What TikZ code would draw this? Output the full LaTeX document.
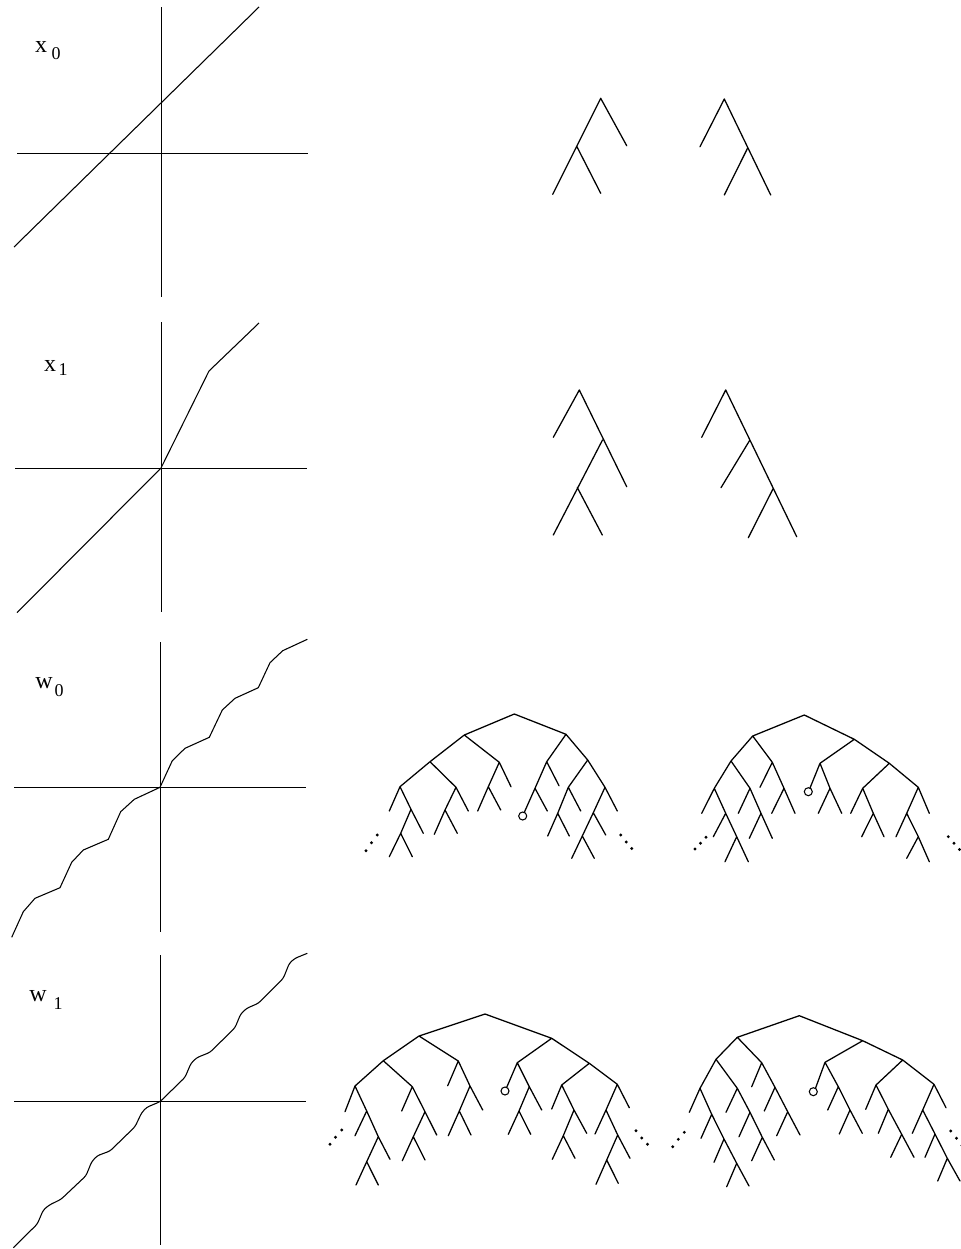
\documentclass[tikz,border=0pt]{standalone}
\usepackage{fontspec}
\setmainfont{Liberation Serif}
\begin{document}
\begin{tikzpicture}[x=0.75pt,y=-0.75pt,
  axis/.style={line width=0.6pt},
  graphline/.style={line width=0.8pt,line join=round},
  tree/.style={line width=0.95pt,line cap=round},
  endcirc/.style={line width=0.8pt,fill=white},
  lbl/.style={inner sep=0pt,font=\fontsize{18}{18}\selectfont},
  sublbl/.style={inner sep=0pt,font=\fontsize{13.5}{13.5}\selectfont}]
\useasboundingbox (0,0) rectangle (960,1249);

% ---------------- row 1: x0 ----------------
\draw[axis] (161.5,7) -- (161.5,297);
\draw[axis] (17,153) -- (308,153);
\draw[graphline] (14,247) -- (259,7);
\node[lbl] (x0) at (41,47) {x};
\node[sublbl] (x0s) at (56,54) {0};

\draw[tree] (600.7,98.3) -- (552.7,194.3) (600.7,98.3) -- (626.7,145.7)
  (576.7,146.3) -- (600.7,193.3);
\draw[tree] (724.3,99) -- (700,146.7) (724.3,99) -- (770.7,195)
  (747.8,147.7) -- (724.3,195);

% ---------------- row 2: x1 ----------------
\draw[axis] (161,322) -- (161,612);
\draw[axis] (15,468) -- (307,468);
\draw[graphline] (17,612.7) -- (161,468) -- (209,371) -- (259,323);
\node[lbl] (x1) at (50,366) {x};
\node[sublbl] (x1s) at (63,370) {1};

\draw[tree] (579.3,390) -- (553.3,437.3) (579.3,390) -- (626.7,486.7)
  (602.5,440) -- (553.3,535) (577.3,487.5) -- (602.3,535);
\draw[tree] (725.7,390) -- (701.7,437.3) (725.7,390) -- (796.7,536.7)
  (749.9,440) -- (721,487.7) (773.3,488.3) -- (748.3,537.7);

% ---------------- row 3: w0 ----------------
\draw[axis] (160,642) -- (160,932);
\draw[axis] (14,787) -- (306,787);
\draw[graphline] (11.7,937.3) -- (23.3,911.7) -- (35,898.3) -- (60,887.7) -- (71.7,862.3)
  -- (83.3,850) -- (108.3,839.3) -- (120.7,811.7) -- (134.3,799.3) -- (160,787.3)
  -- (172.3,760.7) -- (185,748.3) -- (209.3,737.3) -- (222.3,710) -- (235,698.3)
  -- (258.3,687.7) -- (270,662.7) -- (282.7,650.7) -- (307.3,639.3);
\node[lbl] (w0) at (44,683) {w};
\node[sublbl] (w0s) at (59,691) {0};

% tree E
\draw[tree] (514.3,714) -- (464.3,735) (514.3,714) -- (566,734.3)
  (464.3,735) -- (430,761.7) (464.3,735) -- (499.3,762.3)
  (430,761.7) -- (400,786.7) (430,761.7) -- (456,787.3)
  (400,786.7) -- (389.3,811) (400,786.7) -- (411,809.3) -- (423.3,833.3)
  (411,809.3) -- (400.7,833.3) -- (389.3,856.7) (400.7,833.3) -- (412.3,856.7)
  (456,787.3) -- (468.3,811) (456,787.3) -- (445,810) -- (434.3,834.3)
  (445,810) -- (457.3,833.3)
  (499.3,762.3) -- (511,786.7) (499.3,762.3) -- (488.3,786.7) -- (477.7,811)
  (488.3,786.7) -- (500.7,810)
  (566,734.3) -- (546.7,761.7) (566,734.3) -- (587.7,760)
  (546.7,761.7) -- (559,785.7) (546.7,761.7) -- (535,788.3) -- (524.3,812.3)
  (535,788.3) -- (547.3,811)
  (587.7,760) -- (568.3,787.3) (587.7,760) -- (605,787.3)
  (568.3,787.3) -- (580.7,811) (568.3,787.3) -- (557.7,813.3) -- (547.7,836)
  (557.7,813.3) -- (569.3,836)
  (605,787.3) -- (617.3,811) (605,787.3) -- (593.3,812.7) -- (582.3,836) -- (571.7,858.3)
  (593.3,812.7) -- (605.7,835) (582.3,836) -- (594.3,858.3);
\draw[endcirc] (522.7,816) circle (3pt);
\foreach \p in {(366,850.7),(371.5,842.7),(377.3,835),(620.7,835),(626.2,842),(631.7,848.5)}
  \fill \p circle (1.2pt);

% tree F
\draw[tree] (804.3,715) -- (752.7,736) (804.3,715) -- (854.3,739.3)
  (752.7,736) -- (731,761) (752.7,736) -- (772.3,762.3)
  (731,761) -- (714.3,788.3) (731,761) -- (750,788.3)
  (714.3,788.3) -- (701.7,813.3) (714.3,788.3) -- (725.7,813.3) -- (736.7,836.7) -- (748.3,861.7)
  (725.7,813.3) -- (713.3,836.7) (736.7,836.7) -- (725,861.7)
  (750,788.3) -- (738.3,813.3) (750,788.3) -- (761,813.3) -- (772.3,838.3)
  (761,813.3) -- (749.3,838.3)
  (772.3,762.3) -- (760,787.3) (772.3,762.3) -- (784,788.3) -- (795,813.3)
  (784,788.3) -- (771.7,813.3)
  (854.3,739.3) -- (820,763.3) (854.3,739.3) -- (889.3,763.3)
  (820,763.3) -- (810,788) (820,763.3) -- (830,788.3) -- (841.7,813.3)
  (830,788.3) -- (818.3,813.3)
  (889.3,763.3) -- (862.7,788.3) (889.3,763.3) -- (918.3,787.3)
  (862.7,788.3) -- (850.7,813.3) (862.7,788.3) -- (873.3,813.3) -- (884,836.7)
  (873.3,813.3) -- (861.7,836.7)
  (918.3,787.3) -- (929.3,813.3) (918.3,787.3) -- (906.7,813.3) -- (896,836.7)
  (906.7,813.3) -- (918.3,836.7) -- (929.3,861.7) (918.3,836.7) -- (906.7,858.3);
\draw[endcirc] (808.3,791.7) circle (3pt);
\foreach \p in {(695,849),(700.5,843.3),(706,837.3),(948.3,836.7),(954,843.3),(959.5,849.5)}
  \fill \p circle (1.2pt);

% ---------------- row 4: w1 ----------------
\draw[axis] (160,955) -- (160,1245);
\draw[axis] (14,1101.7) -- (306,1101.7);
\draw[graphline,rounded corners=2pt] (13.3,1247.7) -- (37.3,1224) -- (43.3,1210) -- (49.3,1205)
  -- (61,1199.3) -- (86,1175.7) -- (91.7,1161.7) -- (97.3,1155.7) -- (110,1151)
  -- (135,1126.7) -- (141.7,1112.7) -- (146.7,1107.3) -- (160,1101.7)
  -- (185,1077.3) -- (191,1063.3) -- (196.7,1057.7) -- (210,1052.3)
  -- (235,1027.7) -- (240.7,1014) -- (246.7,1008.3) -- (258.3,1003.3)
  -- (283.3,978.3) -- (289.3,963.3) -- (295,958.3) -- (307.3,953.3);
\node[lbl] (w1) at (38,996) {w};
\node[sublbl] (w1s) at (58,1004) {1};

% tree G
\draw[tree] (485,1014) -- (419,1036) (485,1014) -- (551.7,1038.3)
  (419,1036) -- (383.3,1060.7) (419,1036) -- (458.3,1061)
  (383.3,1060.7) -- (355,1086) (383.3,1060.7) -- (412.3,1086.7)
  (355,1086) -- (345,1111.7) (355,1086) -- (366.7,1111) -- (378.3,1136.7) -- (390,1159.3)
  (366.7,1111) -- (355,1135.7) (378.3,1136.7) -- (366.7,1161.7) -- (356,1185)
  (366.7,1161.7) -- (378.3,1185)
  (412.3,1086.7) -- (401.7,1111) (412.3,1086.7) -- (425,1111.7) -- (436.7,1135)
  (425,1111.7) -- (413.3,1136.7) -- (402.3,1160.7) (413.3,1136.7) -- (425,1160)
  (458.3,1061) -- (447.7,1085.7) (458.3,1061) -- (470,1086) -- (482.7,1110)
  (470,1086) -- (459.3,1111) -- (448.3,1135.7) (459.3,1111) -- (471,1135)
  (551.7,1038.3) -- (517.3,1062.7) (551.7,1038.3) -- (589.3,1063.3)
  (517.3,1062.7) -- (506.7,1087.3) (517.3,1062.7) -- (529.3,1086.7) -- (541.7,1110)
  (529.3,1086.7) -- (519,1111) -- (508.3,1134.3) (519,1111) -- (530.7,1134.3)
  (589.3,1063.3) -- (561.7,1085) (589.3,1063.3) -- (617.3,1084.3)
  (561.7,1085) -- (551.7,1109) (561.7,1085) -- (574,1110) -- (586.7,1133.3)
  (574,1110) -- (563.3,1135.7) -- (552.3,1159.3) (563.3,1135.7) -- (575,1158.3)
  (617.3,1084.3) -- (629.3,1107.7) (617.3,1084.3) -- (606,1110) -- (595,1134)
  (606,1110) -- (617.7,1135) -- (630,1158.3) (617.7,1135) -- (606.7,1160) -- (596,1184.3)
  (606.7,1160) -- (618.3,1183.3);
\draw[endcirc] (505,1091) circle (3pt);
\foreach \p in {(330,1144.3),(335.5,1137.3),(341.7,1130),(636,1130.7),(641.7,1138),(647.5,1144.3)}
  \fill \p circle (1.2pt);

% tree H
\draw[tree] (799.3,1015.7) -- (737.3,1037.3) (799.3,1015.7) -- (862.7,1040.7)
  (737.3,1037.3) -- (716,1059.3) (737.3,1037.3) -- (761.7,1062.7)
  (716,1059.3) -- (700,1088.3) (716,1059.3) -- (737.3,1088.3)
  (700,1088.3) -- (689.3,1112.3) (700,1088.3) -- (711.7,1114.3) -- (724,1139) -- (736.7,1163.3) -- (749,1186)
  (711.7,1114.3) -- (701,1138.3) (724,1139) -- (714,1162.3) (736.7,1163.3) -- (726.7,1186.7)
  (737.3,1088.3) -- (726,1112.3) (737.3,1088.3) -- (750,1112.3) -- (762.3,1137.3) -- (774.3,1160)
  (750,1112.3) -- (739,1136.7) (762.3,1137.3) -- (751.7,1160.7)
  (761.7,1062.7) -- (751.7,1086.7) (761.7,1062.7) -- (775,1087.3) -- (787.7,1111.7) -- (800,1135)
  (775,1087.3) -- (764.3,1111) (787.7,1111.7) -- (776.7,1135.7)
  (862.7,1040.7) -- (825,1062.3) (862.7,1040.7) -- (902.7,1060)
  (825,1062.3) -- (815.7,1087.7) (825,1062.3) -- (838.3,1086.7) -- (850,1110) -- (862.3,1133.3)
  (838.3,1086.7) -- (827.7,1110) (850,1110) -- (839.3,1134)
  (902.7,1060) -- (876,1085) (902.7,1060) -- (934,1084.3)
  (876,1085) -- (865.7,1109.3) (876,1085) -- (888.3,1109.3) -- (901.7,1134.3) -- (914,1157.3)
  (888.3,1109.3) -- (878.3,1133.3) (901.7,1134.3) -- (890.7,1157.3)
  (934,1084.3) -- (946,1107.7) (934,1084.3) -- (922.7,1110) -- (912.3,1133.3)
  (922.7,1110) -- (935,1134) -- (947.3,1158.3) -- (960,1181)
  (935,1134) -- (925,1157.3) (947.3,1158.3) -- (937.7,1181);
\draw[endcirc] (813.3,1091.7) circle (3pt);
\foreach \p in {(672.7,1146.7),(678.3,1139.3),(684.3,1132.3),(950.7,1131),(956.5,1138.3),(962,1145.5)}
  \fill \p circle (1.2pt);
\end{tikzpicture}
\end{document}
